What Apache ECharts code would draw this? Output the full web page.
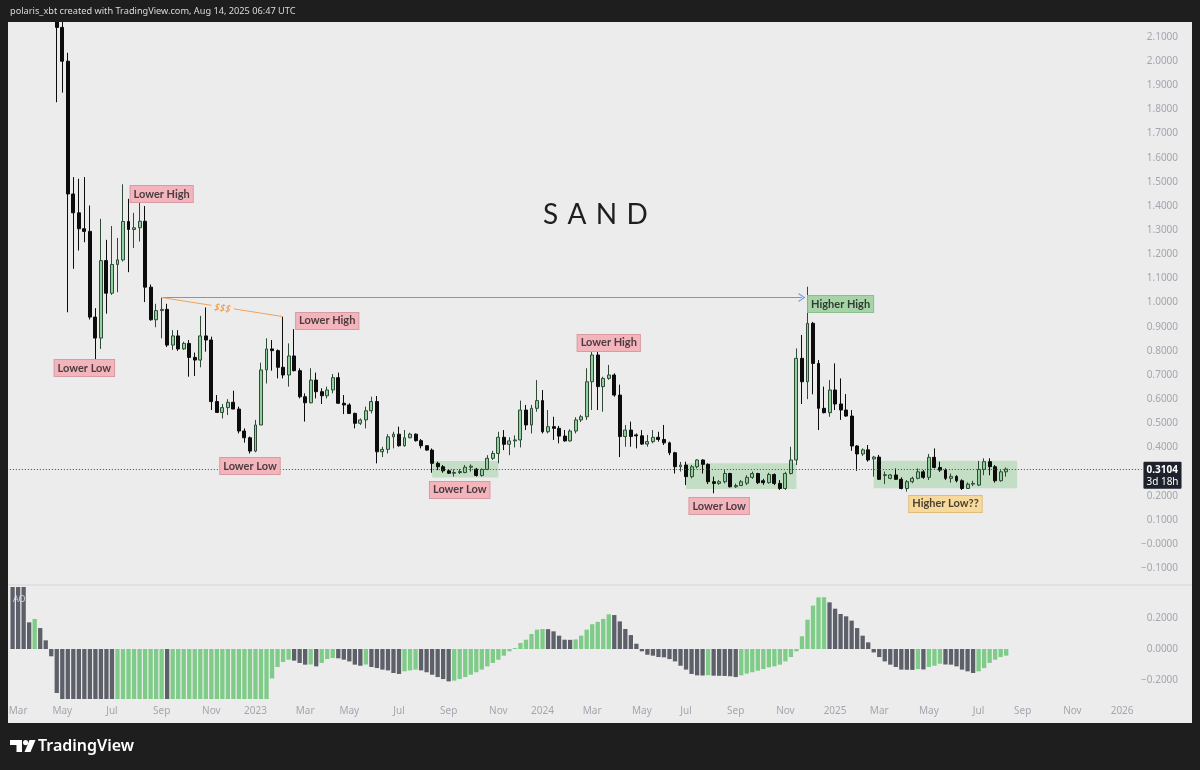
<!DOCTYPE html>
<html><head><meta charset="utf-8">
<script src="https://cdn.jsdelivr.net/npm/echarts@6/dist/echarts.min.js"></script>
<style>html,body{margin:0;padding:0;background:#1e1e1e;}#c{width:1200px;height:770px;}</style>
</head><body><div id="c"></div>
<script>
// ---------- categories: weekly bars (Mondays) ----------
const startWeekUTC = Date.UTC(2022, 1, 28);
const weekCount = 205;
const weeks = [];
for (let i = 0; i < weekCount; i++) weeks.push(new Date(startWeekUTC + i * 7 * 864e5).toISOString().slice(0, 10));
const monthNames = ['Jan','Feb','Mar','Apr','May','Jun','Jul','Aug','Sep','Oct','Nov','Dec'];

// ---------- SAND weekly candles [open, high, low, close], first at week index 8 ----------
const firstCandleIndex = 8;
const ohlc = [
[2.36,2.45,1.83,2.14],[2.14,2.18,1.87,2.00],[2.00,2.035,0.96,1.45],[1.45,1.52,1.14,1.372],[1.372,1.513,1.216,1.306],
[1.306,1.52,1.25,1.295],[1.295,1.402,0.93,0.94],[0.94,0.977,0.74,0.853],[0.853,1.347,0.808,1.174],[1.174,1.26,0.954,1.039],
[1.039,1.317,1.032,1.158],[1.158,1.268,1.043,1.177],[1.177,1.49,1.17,1.336],[1.336,1.43,1.126,1.303],[1.303,1.372,1.226,1.31],
[1.31,1.423,1.253,1.337],[1.337,1.40,1.002,1.064],[1.064,1.075,0.925,0.929],[0.929,0.995,0.898,0.967],[0.967,1.02,0.852,0.972],
[0.972,0.995,0.816,0.824],[0.824,0.886,0.804,0.862],[0.862,0.886,0.80,0.808],[0.808,0.838,0.804,0.831],[0.831,0.845,0.693,0.773],
[0.773,0.793,0.696,0.762],[0.762,0.945,0.732,0.862],[0.862,0.98,0.797,0.845],[0.845,0.859,0.555,0.59],[0.59,0.617,0.545,0.545],
[0.545,0.58,0.52,0.565],[0.565,0.60,0.534,0.587],[0.587,0.635,0.559,0.559],[0.559,0.569,0.458,0.468],[0.468,0.479,0.42,0.44],
[0.44,0.445,0.375,0.385],[0.385,0.514,0.38,0.493],[0.493,0.751,0.493,0.721],[0.721,0.852,0.665,0.808],[0.808,0.845,0.718,0.801],
[0.801,0.806,0.686,0.732],[0.732,0.942,0.686,0.70],[0.70,0.831,0.652,0.779],[0.779,0.89,0.715,0.718],[0.718,0.728,0.603,0.61],
[0.61,0.624,0.507,0.585],[0.585,0.728,0.583,0.679],[0.679,0.71,0.603,0.631],[0.631,0.645,0.58,0.614],[0.614,0.652,0.603,0.638],
[0.638,0.704,0.624,0.689],[0.689,0.71,0.58,0.583],[0.583,0.617,0.538,0.576],[0.576,0.583,0.538,0.541],[0.541,0.544,0.479,0.50],
[0.50,0.52,0.493,0.514],[0.514,0.569,0.479,0.552],[0.552,0.61,0.541,0.59],[0.59,0.613,0.334,0.382],[0.382,0.403,0.36,0.392],
[0.392,0.455,0.375,0.444],[0.444,0.465,0.396,0.455],[0.455,0.486,0.403,0.407],[0.407,0.472,0.403,0.44],[0.44,0.461,0.438,0.455],
[0.455,0.458,0.424,0.428],[0.428,0.435,0.396,0.407],[0.407,0.41,0.386,0.389],[0.389,0.396,0.295,0.334],[0.334,0.341,0.306,0.32],
[0.32,0.327,0.295,0.303],[0.303,0.309,0.29,0.293],[0.293,0.309,0.279,0.296],[0.296,0.31,0.29,0.30],[0.296,0.327,0.293,0.318],
[0.318,0.33,0.30,0.322],[0.31,0.315,0.279,0.284],[0.284,0.313,0.279,0.309],[0.309,0.368,0.306,0.355],[0.355,0.386,0.348,0.375],
[0.375,0.465,0.334,0.442],[0.442,0.472,0.389,0.413],[0.413,0.442,0.368,0.427],[0.427,0.45,0.40,0.431],[0.431,0.594,0.40,0.555],
[0.555,0.576,0.472,0.493],[0.493,0.576,0.458,0.562],[0.562,0.679,0.548,0.594],[0.594,0.638,0.458,0.465],[0.465,0.555,0.458,0.486],
[0.486,0.527,0.431,0.479],[0.479,0.489,0.417,0.447],[0.447,0.472,0.424,0.427],[0.427,0.475,0.424,0.468],[0.468,0.525,0.458,0.514],
[0.514,0.535,0.505,0.527],[0.527,0.728,0.514,0.672],[0.672,0.831,0.555,0.783],[0.783,0.81,0.555,0.652],[0.652,0.693,0.548,0.686],
[0.686,0.742,0.68,0.70],[0.70,0.707,0.61,0.617],[0.617,0.66,0.36,0.445],[0.445,0.493,0.403,0.472],[0.472,0.507,0.403,0.445],
[0.452,0.458,0.396,0.448],[0.448,0.472,0.41,0.414],[0.414,0.452,0.403,0.424],[0.424,0.472,0.417,0.442],[0.442,0.465,0.424,0.433],
[0.433,0.493,0.41,0.419],[0.419,0.424,0.368,0.378],[0.378,0.382,0.292,0.32],[0.32,0.34,0.30,0.327],[0.327,0.341,0.244,0.279],
[0.279,0.327,0.272,0.32],[0.32,0.351,0.313,0.348],[0.348,0.351,0.292,0.33],[0.33,0.334,0.248,0.258],[0.258,0.279,0.21,0.251],
[0.251,0.265,0.245,0.258],[0.258,0.306,0.251,0.292],[0.292,0.295,0.234,0.237],[0.237,0.25,0.232,0.242],[0.242,0.265,0.24,0.258],
[0.252,0.285,0.244,0.276],[0.276,0.30,0.27,0.292],[0.292,0.295,0.248,0.254],[0.262,0.27,0.245,0.254],[0.254,0.295,0.25,0.288],
[0.288,0.292,0.244,0.251],[0.251,0.265,0.224,0.23],[0.23,0.299,0.224,0.292],[0.292,0.403,0.288,0.348],[0.348,0.81,0.327,0.769],
[0.769,0.866,0.58,0.672],[0.672,1.066,0.60,0.914],[0.914,0.92,0.62,0.748],[0.748,0.762,0.472,0.562],[0.562,0.652,0.541,0.544],
[0.544,0.679,0.527,0.638],[0.638,0.748,0.555,0.58],[0.58,0.686,0.514,0.555],[0.555,0.621,0.527,0.53],[0.53,0.555,0.386,0.406],
[0.406,0.41,0.303,0.373],[0.373,0.396,0.365,0.39],[0.39,0.41,0.341,0.348],[0.352,0.365,0.279,0.36],[0.36,0.369,0.265,0.268],
[0.284,0.30,0.248,0.287],[0.272,0.29,0.268,0.286],[0.286,0.313,0.265,0.268],[0.268,0.276,0.226,0.23],[0.23,0.265,0.217,0.258],
[0.258,0.279,0.252,0.272],[0.272,0.313,0.268,0.299],[0.299,0.306,0.27,0.276],[0.276,0.373,0.265,0.359],[0.359,0.396,0.313,0.317],
[0.317,0.341,0.299,0.306],[0.306,0.313,0.265,0.272],[0.272,0.292,0.254,0.28],[0.28,0.285,0.255,0.262],[0.262,0.268,0.224,0.23],
[0.23,0.255,0.228,0.248],[0.248,0.262,0.24,0.251],[0.244,0.344,0.24,0.309],[0.309,0.355,0.285,0.341],[0.341,0.355,0.285,0.32],
[0.32,0.327,0.254,0.262],[0.262,0.306,0.258,0.299],[0.299,0.317,0.279,0.3104]
];
const lastPrice = 0.3104;
const countdown = '3d 18h';

// ---------- Awesome Oscillator histogram, week index 0.. ----------
const aoValues = [
0.55,0.50,0.45,0.172,0.194,0.135,0.056,-0.047,-0.284,
-0.40,-0.52,-0.63,-0.72,-0.80,-0.86,-0.91,-0.94,-0.96,-0.97,
-0.95,-0.92,-0.89,-0.86,-0.83,-0.81,-0.79,-0.78,-0.77,-0.78,
-0.76,-0.74,-0.72,-0.70,-0.68,-0.66,-0.63,-0.60,-0.57,-0.54,-0.51,-0.48,-0.45,-0.42,-0.40,-0.38,-0.36,-0.34,
-0.19,-0.116,-0.084,-0.069,-0.075,-0.09,-0.101,-0.10,-0.112,-0.09,-0.065,-0.058,-0.06,-0.069,-0.08,-0.101,-0.108,-0.10,
-0.116,-0.123,-0.133,-0.138,-0.155,-0.161,-0.144,-0.138,-0.133,-0.138,-0.15,-0.166,-0.181,-0.194,-0.209,-0.204,-0.194,
-0.181,-0.166,-0.15,-0.133,-0.112,-0.09,-0.069,-0.043,-0.015,0.006,0.039,0.06,0.097,0.125,0.129,0.128,0.114,0.086,0.06,
0.059,0.062,0.086,0.125,0.16,0.175,
0.194,0.224,0.219,0.178,0.129,0.09,0.034,-0.015,-0.037,-0.043,-0.052,-0.054,-0.065,-0.08,-0.108,-0.133,-0.161,-0.17,
-0.171,-0.169,-0.172,-0.173,-0.174,-0.176,-0.181,-0.17,-0.159,-0.15,-0.14,-0.129,-0.118,-0.112,-0.101,-0.08,-0.052,-0.015,
0.082,0.189,0.28,0.333,0.334,0.301,0.26,0.226,0.211,0.183,0.135,0.086,0.043,-0.022,-0.052,-0.08,-0.101,-0.116,-0.133,
-0.134,-0.135,-0.13,-0.132,-0.116,-0.108,-0.095,-0.10,-0.101,-0.112,-0.133,-0.144,-0.155,-0.144,-0.123,-0.09,-0.069,-0.052,-0.043
];

// ---------- axis ticks ----------
const priceTicks = [-0.1,0,0.1,0.2,0.3,0.4,0.5,0.6,0.7,0.8,0.9,1.0,1.1,1.2,1.3,1.4,1.5,1.6,1.7,1.8,1.9,2.0,2.1];
const aoTicks = [-0.2, 0, 0.2];

// ---------- annotations (week index, price) ----------
const notes = [
  {text:'Lower High',  x:26.7,  y:1.45,  kind:'red'},
  {text:'Lower Low',   x:12.5,  y:0.729, kind:'red'},
  {text:'Lower High',  x:56.7,  y:0.924, kind:'red'},
  {text:'Lower Low',   x:42.55, y:0.323, kind:'red'},
  {text:'Lower Low',   x:81.4,  y:0.224, kind:'red'},
  {text:'Lower High',  x:107.6, y:0.833, kind:'red'},
  {text:'Lower Low',   x:128.4, y:0.157, kind:'red'},
  {text:'Higher High', x:149.9, y:0.994, kind:'green'},
  {text:'Higher Low??',x:168.6, y:0.166, kind:'yellow'}
];
const ranges = [
  {x0:76,  x1:88,  top:0.344, bottom:0.275},
  {x0:122, x1:142, top:0.334, bottom:0.228},
  {x0:156, x1:182, top:0.345, bottom:0.231}
];
const breakoutLine = {x0:27, x1:143.4, y:1.021};
const liquidityLine = {x0:27, y0:1.021, x1:49, y1:0.942, text:'$$$', textX:38, textY:0.975};

// ---------- build ----------
const candleData = weeks.map((w, i) => {
  const r = ohlc[i - firstCandleIndex];
  return r ? [r[0], r[3], r[2], r[1]] : '-';
});
const aoData = aoValues.map((v, i) => ({
  value: v,
  itemStyle: {color: (i > 0 && v > aoValues[i - 1]) ? '#7fcb88' : '#5e6069'}
}));
const labelIdx = new Set();
for (let i = 1; i < weeks.length; i++) {
  const m = +weeks[i].slice(5, 7) - 1, pm = +weeks[i - 1].slice(5, 7) - 1;
  if (m !== pm && m % 2 === 0) labelIdx.add(i);
}
const noteStyles = {
  red:    {bg:'#f3b4bc', border:'#d89aa3', color:'#4a3c40'},
  green:  {bg:'#a7d3a8', border:'#8bbd8d', color:'#2f3d31'},
  yellow: {bg:'#f8d99c', border:'#e0bd78', color:'#4a4232'}
};
const noteLabel = (text, st) => ({
  show: true, position: 'inside', formatter: text, color: st.color,
  backgroundColor: st.bg, borderColor: st.border, borderWidth: 1,
  padding: [2, 3, 1, 3], fontSize: 11, fontWeight: 'bold', fontFamily: 'Lato', lineHeight: 13
});

const gridLeft = 9.84, gridWidth = 5.52 * weekCount;
const chart = echarts.init(document.getElementById('c'), null, {renderer: 'canvas'});
chart.setOption({
  backgroundColor: '#ececed',
  animation: false,
  title: {
    text: 'S\u2004A\u2004N\u2004D', left: 538, top: 196,
    textStyle: {fontSize: 28, fontWeight: 'normal', color: '#1e1e1e', fontFamily: 'Lato'}
  },
  grid: [
    {left: gridLeft, width: gridWidth, top: 22, height: 561},
    {left: gridLeft, width: gridWidth, top: 587, height: 112}
  ],
  xAxis: [
    {type: 'category', gridIndex: 0, data: weeks, boundaryGap: true,
     axisLine: {show: false}, axisTick: {show: false}, axisLabel: {show: false}, splitLine: {show: false}},
    {type: 'category', gridIndex: 1, data: weeks, boundaryGap: true,
     axisLine: {show: false}, axisTick: {show: false}, splitLine: {show: false},
     axisLabel: {interval: (i) => labelIdx.has(i), margin: 7, color: '#a3a6ae', fontSize: 10, fontFamily: 'Noto Sans',
       formatter: (v) => { const m = +v.slice(5, 7) - 1; return m === 0 ? v.slice(0, 4) : monthNames[m]; }}}
  ],
  yAxis: [
    {type: 'value', gridIndex: 0, position: 'right', min: -0.1616, max: 2.1624, scale: true,
     axisLine: {show: false}, axisTick: {show: false}, splitLine: {show: false},
     axisLabel: {customValues: priceTicks, align: 'right', margin: 36.6, color: '#a3a6ae', fontSize: 10, fontFamily: 'Noto Sans',
       formatter: (v) => (v <= 0 ? '\u2212' : '') + Math.abs(v).toFixed(4)}},
    {type: 'value', gridIndex: 1, position: 'right', min: -0.3226, max: 0.4, scale: true,
     axisLine: {show: false}, axisTick: {show: false}, splitLine: {show: false},
     axisLabel: {customValues: aoTicks, align: 'right', margin: 36.6, color: '#a3a6ae', fontSize: 10, fontFamily: 'Noto Sans',
       formatter: (v) => (v < 0 ? '\u2212' : '') + Math.abs(v).toFixed(4)}}
  ],
  series: [
    {
      type: 'candlestick', xAxisIndex: 0, yAxisIndex: 0, data: candleData, barWidth: 3.4, clip: true,
      itemStyle: {color: '#8fd19e', color0: '#0c0c0c', borderColor: '#2f4a34', borderColor0: '#0c0c0c', borderWidth: 1},
      markLine: {
        silent: true, animation: false, symbol: 'none',
        data: [
          {yAxis: lastPrice, symbol: 'none',
           lineStyle: {type: [1, 2], color: '#444444', width: 1},
           label: {show: true, position: 'end', distance: 2, offset: [0, 6],
             formatter: '{p|' + lastPrice.toFixed(4) + '}\n{t|' + countdown + '}',
             backgroundColor: '#1e222d', padding: [2, 3, 1, 3], borderRadius: 1,
             rich: {p: {color: '#ffffff', fontSize: 10, fontWeight: 'bold', fontFamily: 'Noto Sans', lineHeight: 12},
                    t: {color: '#ffffff', fontSize: 10, fontFamily: 'Noto Sans', lineHeight: 12}}}},
          [{coord: [breakoutLine.x0, breakoutLine.y], symbol: 'none'},
           {coord: [breakoutLine.x1, breakoutLine.y], symbol: 'path://M0,10 L5,0 L10,10 L8.6,10 L5,2.6 L1.4,10 Z', symbolSize: [9, 7],
            lineStyle: {color: '#6f94e8', width: 1, type: 'solid'}, label: {show: false}}],
          [{coord: [liquidityLine.x0, liquidityLine.y0], symbol: 'none'},
           {coord: [liquidityLine.x1, liquidityLine.y1], symbol: 'none',
            lineStyle: {color: '#f3a25a', width: 1, type: 'solid'}, label: {show: false}}]
        ]
      },
      markPoint: {
        silent: true, animation: false,
        data: notes.map(n => ({
          coord: [n.x, n.y], symbol: 'rect', symbolSize: 1, itemStyle: {color: 'rgba(0,0,0,0)'},
          label: noteLabel(n.text, noteStyles[n.kind])
        })).concat([{
          coord: [liquidityLine.textX, liquidityLine.textY], symbol: 'rect', symbolSize: 1, itemStyle: {color: 'rgba(0,0,0,0)'},
          label: {show: true, position: 'inside', formatter: liquidityLine.text, color: '#f0923a', fontSize: 10, rotate: -8,
            fontStyle: 'italic', fontFamily: 'Noto Sans', backgroundColor: '#ececed', padding: [0, 3]}
        }])
      }
    },
    {
      type: 'line', xAxisIndex: 0, yAxisIndex: 0, data: [], z: 10, silent: true,
      markArea: {silent: true, itemStyle: {color: 'rgba(102,187,106,0.30)'},
        data: ranges.map(r => [{coord: [r.x0, r.top]}, {coord: [r.x1, r.bottom]}])}
    },
    {
      type: 'bar', xAxisIndex: 1, yAxisIndex: 1, data: aoData, barCategoryGap: '22%', clip: true
    }
  ],
  graphic: [
    {type: 'rect', z: 100, shape: {x: 0, y: 0, width: 1200, height: 22}, style: {fill: '#1e1e1e'}},
    {type: 'rect', z: 100, shape: {x: 0, y: 0, width: 8, height: 770}, style: {fill: '#1e1e1e'}},
    {type: 'rect', z: 100, shape: {x: 1192, y: 0, width: 8, height: 770}, style: {fill: '#1e1e1e'}},
    {type: 'rect', z: 100, shape: {x: 0, y: 723, width: 1200, height: 47}, style: {fill: '#1e1e1e'}},
    {type: 'line', z: 100, shape: {x1: 8, y1: 585, x2: 1192, y2: 585}, style: {stroke: '#d6d6d8', lineWidth: 1}},
    {type: 'text', z: 101, x: 10, y: 11, style: {text: 'polaris_xbt created with TradingView.com, Aug 14, 2025 06:47 UTC',
      fill: '#d9dadd', font: '9.2px "Noto Sans"', verticalAlign: 'middle'}},
    {type: 'text', z: 101, x: 13, y: 599, style: {text: 'AO', fill: 'rgba(235,235,235,0.8)', font: '9px "Noto Sans"', verticalAlign: 'middle'}},
    {type: 'polygon', z: 101, shape: {points: [[10, 740], [22, 740], [22, 752], [16.5, 752], [16.5, 745], [10, 745]]}, style: {fill: '#ffffff'}},
    {type: 'circle', z: 101, shape: {cx: 25.6, cy: 742.6, r: 2.6}, style: {fill: '#ffffff'}},
    {type: 'polygon', z: 101, shape: {points: [[29.5, 740], [35.5, 740], [30.5, 752], [24.5, 752]]}, style: {fill: '#ffffff'}},
    {type: 'text', z: 101, x: 38, y: 746, style: {text: 'TradingView', fill: '#ffffff', font: '600 16px "Noto Sans"', verticalAlign: 'middle'}}
  ]
});
</script>
</body></html>
